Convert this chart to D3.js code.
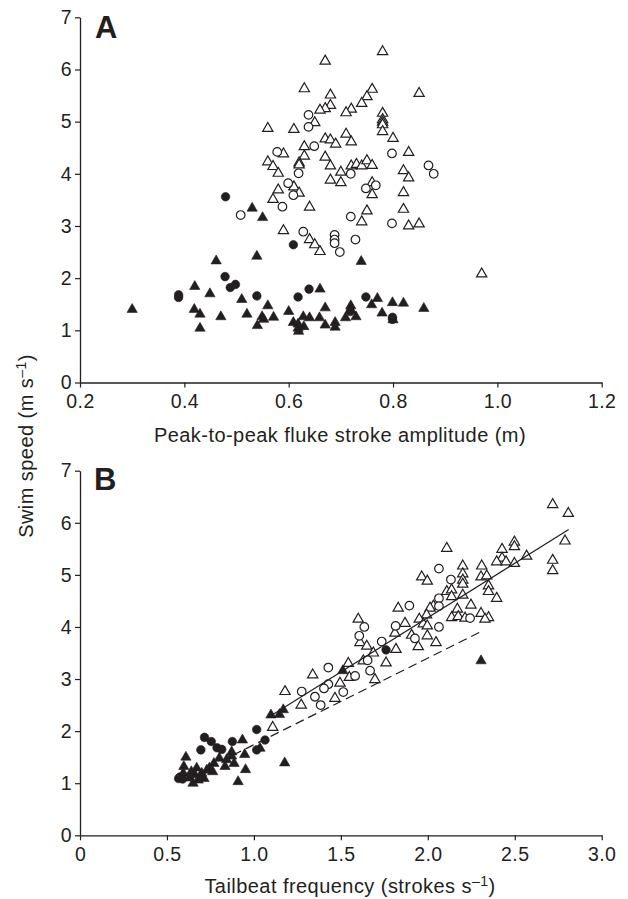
<!DOCTYPE html>
<html><head><meta charset="utf-8">
<script src="https://cdn.jsdelivr.net/npm/d3@7"></script>
<style>
body{margin:0;background:#fff;}
svg text{font-family:"Liberation Sans",Arial,Helvetica,sans-serif;fill:#231f20;}
</style>
</head><body>
<svg id="chart" width="628" height="899"></svg>
<script>
// ---------- Panel A data: [amplitude (m), swim speed (m/s)] ----------
const aOpenTri = [[0.78,6.34],[0.67,6.16],[0.63,5.63],[0.68,5.51],[0.76,5.62],[0.75,5.48],[0.85,5.54],[0.74,5.35],[0.68,5.31],[0.67,5.25],[0.66,5.22],[0.72,5.24],[0.71,5.17],[0.78,5.16],[0.78,5.04],[0.78,4.99],[0.78,4.94],[0.78,4.81],[0.65,4.98],[0.56,4.87],[0.61,4.85],[0.80,4.68],[0.67,4.67],[0.68,4.65],[0.69,4.57],[0.71,4.76],[0.72,4.61],[0.63,4.52],[0.83,4.41],[0.59,4.38],[0.63,4.34],[0.56,4.23],[0.57,4.14],[0.58,4.01],[0.62,4.21],[0.62,4.17],[0.67,4.32],[0.68,4.15],[0.70,4.03],[0.72,4.15],[0.73,4.18],[0.74,4.15],[0.75,4.25],[0.76,4.16],[0.82,4.06],[0.83,3.92],[0.68,3.88],[0.70,3.83],[0.76,3.83],[0.82,3.64],[0.58,3.69],[0.61,3.75],[0.62,3.63],[0.57,3.51],[0.64,3.36],[0.75,3.29],[0.82,3.32],[0.76,3.60],[0.83,3.00],[0.85,3.04],[0.74,3.08],[0.64,2.74],[0.65,2.64],[0.66,2.51],[0.97,2.08],[0.59,2.91]];
const aOpenCirc = [[0.638,5.13],[0.638,4.90],[0.649,4.53],[0.578,4.42],[0.619,4.01],[0.798,4.39],[0.868,4.16],[0.878,4.00],[0.719,4.00],[0.599,3.82],[0.609,3.59],[0.588,3.37],[0.508,3.21],[0.748,3.72],[0.767,3.78],[0.719,3.18],[0.798,3.05],[0.728,2.74],[0.688,2.83],[0.688,2.74],[0.688,2.67],[0.698,2.50],[0.628,2.89]];
const aFillCirc = [[0.479,3.56],[0.609,2.64],[0.478,2.03],[0.488,1.82],[0.498,1.88],[0.389,1.68],[0.389,1.63],[0.539,1.66],[0.618,1.64],[0.639,1.79],[0.748,1.64],[0.718,1.36],[0.799,1.21],[0.799,1.25]];
const aFillTri = [[0.300,1.40],[0.420,1.84],[0.419,1.40],[0.430,1.31],[0.430,1.04],[0.449,1.70],[0.461,2.33],[0.470,1.26],[0.510,1.59],[0.520,1.31],[0.530,3.34],[0.550,3.16],[0.539,2.42],[0.540,1.09],[0.549,1.26],[0.552,1.21],[0.560,1.47],[0.571,1.25],[0.600,1.36],[0.609,1.15],[0.618,1.04],[0.619,0.98],[0.618,1.12],[0.628,1.26],[0.629,1.07],[0.640,1.24],[0.660,1.79],[0.670,1.43],[0.659,1.24],[0.670,1.10],[0.689,1.15],[0.689,1.06],[0.709,1.24],[0.719,1.47],[0.719,1.39],[0.729,1.26],[0.739,2.32],[0.759,1.49],[0.770,1.61],[0.779,1.33],[0.799,1.53],[0.820,1.52],[0.859,1.42],[0.800,1.20]];

// ---------- Panel B data: [tailbeat frequency (strokes/s), swim speed (m/s)] ----------
const bOpenTri = [[2.718,6.35],[2.808,6.18],[2.109,5.51],[2.789,5.65],[2.498,5.63],[2.498,5.54],[2.427,5.49],[2.568,5.36],[2.427,5.32],[2.396,5.25],[2.45,5.25],[2.498,5.22],[2.718,5.28],[2.718,5.08],[2.201,5.17],[2.310,5.17],[1.965,4.96],[1.997,4.88],[2.201,5.02],[2.201,4.90],[2.201,4.82],[2.306,4.96],[2.339,4.98],[2.349,4.79],[2.349,4.68],[2.396,4.55],[2.109,4.68],[2.137,4.71],[2.137,4.58],[2.201,4.61],[2.032,4.40],[2.013,4.36],[1.830,4.36],[2.170,4.34],[2.248,4.42],[2.306,4.26],[2.349,4.18],[2.329,4.15],[2.137,4.18],[2.175,4.20],[2.214,4.17],[1.993,4.23],[1.951,4.15],[1.974,4.06],[1.997,4.02],[1.869,4.07],[1.811,3.88],[1.907,3.84],[1.997,3.83],[1.945,3.62],[2.047,3.70],[1.817,3.57],[1.600,4.15],[1.610,3.70],[1.649,3.63],[1.687,3.50],[1.760,3.31],[1.629,3.35],[1.543,3.30],[1.549,3.03],[1.495,2.92],[1.696,2.99],[1.338,3.08],[1.466,2.63],[1.272,2.50],[1.179,2.76],[1.108,2.07]];
const bOpenCirc = [[2.064,5.12],[2.133,4.91],[2.064,4.55],[2.064,4.40],[1.894,4.41],[2.243,4.17],[1.815,4.02],[2.064,4.00],[1.926,3.78],[1.635,4.00],[1.606,3.83],[1.735,3.72],[1.654,3.36],[1.668,3.16],[1.582,3.06],[1.514,2.75],[1.428,3.22],[1.428,2.90],[1.403,2.82],[1.351,2.66],[1.384,2.50],[1.275,2.76]];
const bFillCirc = [[1.760,3.56],[1.016,2.03],[1.064,1.83],[1.016,1.64],[0.716,1.88],[0.695,1.64],[0.755,1.80],[0.788,1.68],[0.815,1.65],[0.876,1.80],[0.567,1.09],[0.590,1.08],[0.575,1.12]];
const bFillTri = [[2.306,3.35],[1.511,3.16],[1.098,2.31],[1.147,2.32],[1.169,2.41],[1.177,1.39],[0.934,1.83],[0.947,1.55],[0.952,1.26],[0.909,1.03],[0.609,1.50],[0.597,1.32],[0.594,1.19],[0.650,1.00],[0.671,1.29],[0.661,1.16],[0.700,1.19],[0.713,1.09],[0.744,1.29],[0.763,1.22],[0.770,1.38],[0.801,1.48],[0.834,1.32],[0.843,1.45],[0.872,1.52],[0.886,1.38],[0.872,1.60],[1.035,1.67],[0.729,1.25],[0.690,1.12],[0.630,1.10],[0.640,1.22],[0.680,1.06]];
const bFitSolid = [[1.10,2.30],[2.81,5.87]];
const bFitDashed = [[0.88,1.54],[2.306,3.91]];

// ---------- ticks & labels ----------
const yTicks = [0,1,2,3,4,5,6,7];
const aXTicks = [0.2,0.4,0.6,0.8,1.0,1.2];
const aXTickLabels = ["0.2","0.4","0.6","0.8","1.0","1.2"];
const bXTicks = [0,0.5,1.0,1.5,2.0,2.5,3.0];
const bXTickLabels = ["0","0.5","1.0","1.5","2.0","2.5","3.0"];

const svg = d3.select("#chart");
const ink = "#231f20";

const xA = d3.scaleLinear().domain([0.2,1.2]).range([80,601.7]);
const yA = d3.scaleLinear().domain([0,7]).range([382.5,17.3]);
const xB = d3.scaleLinear().domain([0,3]).range([80,601.7]);
const yB = d3.scaleLinear().domain([0,7]).range([835.3,470.7]);

function drawAxes(x, y, ticks, labels){
  const gx = svg.append("g").attr("transform",`translate(0,${y(0)})`)
    .call(d3.axisBottom(x).tickValues(ticks).tickFormat((d,i)=>labels[i]).tickSize(5).tickPadding(7).tickSizeOuter(0));
  const gy = svg.append("g").attr("transform",`translate(${x.range()[0]},0)`)
    .call(d3.axisLeft(y).tickValues(yTicks).tickFormat(d3.format("d")).tickSize(5).tickPadding(3).tickSizeOuter(0));
  [gx,gy].forEach(g=>{
    g.select(".domain").attr("stroke",ink).attr("stroke-width",1.3);
    g.selectAll(".tick line").attr("stroke",ink).attr("stroke-width",1.2);
    g.selectAll(".tick text").attr("fill",ink).style("font-size","19.5px").style("letter-spacing","0.4px")
      .style("font-family","'Liberation Sans',Arial,sans-serif");
  });
}

const triSym = d3.symbol().type(d3.symbolTriangle).size(46);
const circSym = d3.symbol().type(d3.symbolCircle).size(58);

function drawPoints(data, x, y, sym, filled){
  svg.append("g").selectAll("path").data(data).join("path")
    .attr("d", sym)
    .attr("transform", d=>`translate(${x(d[0])},${y(d[1])})`)
    .attr("fill", filled ? ink : "#fff")
    .attr("stroke", ink)
    .attr("stroke-width", filled ? 0.6 : 1.2);
}

// Panel A
drawAxes(xA, yA, aXTicks, aXTickLabels);
drawPoints(aOpenTri, xA, yA, triSym, false);
drawPoints(aOpenCirc, xA, yA, circSym, false);
drawPoints(aFillTri, xA, yA, triSym, true);
drawPoints(aFillCirc, xA, yA, circSym, true);

// Panel B
drawAxes(xB, yB, bXTicks, bXTickLabels);
drawPoints(bOpenTri, xB, yB, triSym, false);
drawPoints(bOpenCirc, xB, yB, circSym, false);
drawPoints(bFillTri, xB, yB, triSym, true);
drawPoints(bFillCirc, xB, yB, circSym, true);
const line = d3.line().x(d=>xB(d[0])).y(d=>yB(d[1]));
svg.append("path").datum(bFitSolid).attr("d", line).attr("fill","none").attr("stroke",ink).attr("stroke-width",1.2);
svg.append("path").datum(bFitDashed).attr("d", line).attr("fill","none").attr("stroke",ink).attr("stroke-width",1.2).attr("stroke-dasharray","9,5");

// Panel letters
svg.append("text").attr("x",95).attr("y",38).style("font-size","31px").style("font-weight","bold").text("A");
svg.append("text").attr("x",94).attr("y",490).style("font-size","31px").style("font-weight","bold").text("B");

// Axis titles
const titleStyle = t => t.style("font-size","20px").style("letter-spacing","0.45px");
const tA = svg.append("text").attr("x",340).attr("y",442).attr("text-anchor","middle").call(titleStyle)
  .text("Peak-to-peak fluke stroke amplitude (m)");
const tB = svg.append("text").attr("x",350).attr("y",893).attr("text-anchor","middle").call(titleStyle);
tB.append("tspan").text("Tailbeat frequency (strokes s");
tB.append("tspan").attr("dy",-7).style("font-size","14px").text("\u20131");
tB.append("tspan").attr("dy",7).text(")");
const tY = svg.append("text").attr("transform","translate(33,446) rotate(-90)").attr("text-anchor","middle").call(titleStyle);
tY.append("tspan").text("Swim speed (m s");
tY.append("tspan").attr("dy",-7).style("font-size","14px").text("\u20131");
tY.append("tspan").attr("dy",7).text(")");
</script>
</body></html>
